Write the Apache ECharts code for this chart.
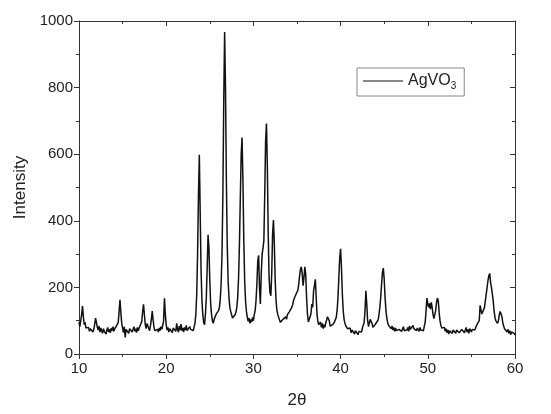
<!DOCTYPE html>
<html>
<head>
<meta charset="utf-8">
<script src="https://cdn.jsdelivr.net/npm/echarts@6/dist/echarts.min.js"></script>
<style>
html,body{margin:0;padding:0;background:#fff;}
#chart{width:551px;height:414px;}
</style>
</head>
<body>
<div id="chart"></div>
<script>
// 2θ sampling of the scan (degrees)
const scanStart = 10;
const scanStep = 0.1;
// Intensity, one row per degree (x.0 ... x.9), last value at 60.0
const intensity = [
  95, 82, 100, 118, 144, 112, 88, 95, 78, 84,          // 10
  72, 80, 68, 76, 70, 78, 66, 74, 90, 108,             // 11
  95, 80, 72, 84, 66, 78, 70, 62, 76, 68,              // 12
  74, 60, 72, 80, 66, 74, 64, 78, 70, 82,              // 13
  68, 76, 72, 84, 78, 95, 128, 163, 125, 92,           // 14
  78, 64, 82, 50, 74, 68, 80, 62, 76, 70,              // 15
  78, 66, 74, 82, 68, 76, 64, 80, 70, 78,              // 16
  72, 84, 98, 128, 149, 118, 88, 76, 92, 84,           // 17
  78, 70, 86, 104, 129, 102, 80, 70, 76, 68,           // 18
  74, 66, 78, 70, 82, 74, 80, 98, 167, 120,            // 19
  88, 72, 80, 66, 76, 70, 82, 64, 78, 72,              // 20
  80, 68, 92, 74, 66, 84, 72, 90, 70, 78,              // 21
  66, 80, 72, 86, 70, 76, 64, 82, 74, 68,              // 22
  78, 70, 64, 92, 120, 180, 300, 480, 598, 420,        // 23
  250, 160, 118, 95, 88, 120, 170, 260, 358, 320,      // 24
  220, 150, 118, 100, 92, 104, 110, 118, 112, 124,     // 25
  130, 140, 165, 210, 300, 480, 760, 967, 800, 520,    // 26
  330, 220, 170, 140, 128, 118, 108, 112, 106, 118,    // 27
  126, 140, 170, 230, 330, 470, 600, 650, 520, 340,    // 28
  220, 160, 128, 110, 98, 108, 92, 104, 96, 110,       // 29
  100, 118, 130, 160, 210, 280, 296, 200, 150, 240,    // 30
  300, 318, 340, 480, 640, 692, 560, 360, 230, 185,    // 31
  175, 240, 360, 402, 330, 220, 160, 130, 118, 110,    // 32
  102, 95, 100, 92, 104, 98, 108, 112, 104, 118,       // 33
  112, 126, 120, 132, 140, 148, 160, 168, 174, 180,    // 34
  178, 192, 210, 235, 255, 262, 240, 205, 230, 262,    // 35
  240, 170, 120, 96, 92, 100, 120, 150, 140, 190,      // 36
  205, 224, 170, 118, 96, 88, 84, 96, 80, 92,          // 37
  76, 88, 80, 94, 102, 112, 118, 100, 84, 90,          // 38
  80, 88, 84, 96, 100, 110, 130, 170, 230, 290,        // 39
  316, 260, 180, 130, 104, 92, 84, 88, 76, 82,         // 40
  70, 78, 64, 72, 66, 74, 60, 70, 64, 72,              // 41
  58, 68, 62, 74, 66, 78, 82, 95, 130, 190,            // 42
  150, 100, 82, 94, 104, 110, 92, 80, 86, 78,          // 43
  90, 84, 96, 102, 118, 140, 170, 210, 245, 258,       // 44
  225, 170, 130, 108, 94, 86, 80, 88, 76, 84,          // 45
  72, 80, 68, 78, 70, 76, 66, 74, 70, 78,              // 46
  68, 74, 82, 70, 76, 66, 72, 80, 68, 84,              // 47
  74, 80, 70, 86, 76, 72, 82, 70, 78, 74,              // 48
  68, 80, 72, 66, 78, 70, 84, 95, 130, 168,            // 49
  150, 140, 152, 135, 155, 140, 118, 106, 112, 130,    // 50
  155, 168, 160, 125, 100, 86, 78, 84, 72, 80,         // 51
  68, 76, 64, 72, 60, 70, 66, 74, 62, 72,              // 52
  68, 76, 62, 72, 66, 78, 64, 70, 60, 74,              // 53
  68, 78, 64, 72, 80, 66, 74, 62, 76, 70,              // 54
  66, 74, 70, 78, 72, 80, 84, 92, 88, 100,             // 55
  146, 132, 120, 116, 125, 140, 160, 180, 200, 220,    // 56
  235, 242, 215, 200, 195, 160, 130, 110, 100, 95,     // 57
  92, 100, 118, 128, 131, 112, 94, 84, 76, 72,         // 58
  80, 66, 74, 62, 70, 58, 66, 60, 64, 62,              // 59
  57                                                   // 60.0
];
const xTicks = [10, 20, 30, 40, 50, 60];
const yTicks = [0, 200, 400, 600, 800, 1000];
const seriesName = 'AgVO3';

const points = intensity.map((v, i) => [+(scanStart + i * scanStep).toFixed(2), v]);

const chart = echarts.init(document.getElementById('chart'), null, {renderer: 'canvas'});
const axisColor = '#333';
const font = 'Liberation Sans, Arial, sans-serif';
const plain = v => String(v);
const commonX = {
  type: 'value', min: xTicks[0], max: xTicks[xTicks.length - 1], interval: 10,
  axisLine: {show: true, onZero: false, lineStyle: {color: axisColor, width: 1}},
  splitLine: {show: false},
  minorTick: {show: true, splitNumber: 2, length: 3, lineStyle: {color: axisColor}},
  minorSplitLine: {show: false}
};
const commonY = {
  type: 'value', min: yTicks[0], max: yTicks[yTicks.length - 1], interval: 200,
  axisLine: {show: true, onZero: false, lineStyle: {color: axisColor, width: 1}},
  splitLine: {show: false},
  minorTick: {show: true, splitNumber: 2, length: 3, lineStyle: {color: axisColor}},
  minorSplitLine: {show: false}
};
chart.setOption({
  animation: false,
  backgroundColor: '#fff',
  grid: {left: 79, right: 36, top: 21, bottom: 55, containLabel: false},
  legend: {
    show: true,
    data: [seriesName],
    left: 357, top: 68,
    orient: 'vertical',
    padding: [5, 8, 5, 6],
    borderColor: '#888', borderWidth: 1,
    icon: 'rect', itemWidth: 40, itemHeight: 1.2, itemGap: 0,
    itemStyle: {color: '#111'},
    formatter: () => '{a|AgVO}{s|3}',
    textStyle: {
      color: '#222', fontFamily: font,
      rich: {
        a: {fontSize: 16, fontFamily: font, color: '#222'},
        s: {fontSize: 10, fontFamily: font, color: '#222', verticalAlign: 'bottom', padding: [10, 0, 0, 0]}
      }
    }
  },
  xAxis: [
    Object.assign({}, commonX, {
      position: 'bottom',
      name: '2θ', nameLocation: 'middle', nameGap: 38,
      nameTextStyle: {fontSize: 17, fontFamily: font, color: '#222'},
      axisTick: {show: true, inside: false, length: 5, lineStyle: {color: axisColor}},
      axisLabel: {show: true, fontSize: 15, fontFamily: font, color: '#222', margin: 7, formatter: plain}
    }),
    Object.assign({}, commonX, {
      position: 'top',
      axisTick: {show: true, inside: true, length: 5, lineStyle: {color: axisColor}},
      minorTick: {show: true, splitNumber: 2, length: 3, lineStyle: {color: axisColor}},
      axisLabel: {show: false}
    })
  ],
  yAxis: [
    Object.assign({}, commonY, {
      position: 'left',
      name: 'Intensity', nameLocation: 'middle', nameGap: 50, nameRotate: 90,
      nameTextStyle: {fontSize: 17, fontFamily: font, color: '#222'},
      axisTick: {show: true, inside: false, length: 5, lineStyle: {color: axisColor}},
      axisLabel: {show: true, fontSize: 15, fontFamily: font, color: '#222', margin: 6, formatter: plain}
    }),
    Object.assign({}, commonY, {
      position: 'right',
      axisTick: {show: true, inside: true, length: 5, lineStyle: {color: axisColor}},
      axisLabel: {show: false}
    })
  ],
  series: [{
    name: seriesName,
    type: 'line',
    xAxisIndex: 0, yAxisIndex: 0,
    data: points,
    showSymbol: false, symbol: 'none',
    lineStyle: {color: '#111', width: 1.5},
    itemStyle: {color: '#111'},
    clip: true
  }]
});
</script>
</body>
</html>
